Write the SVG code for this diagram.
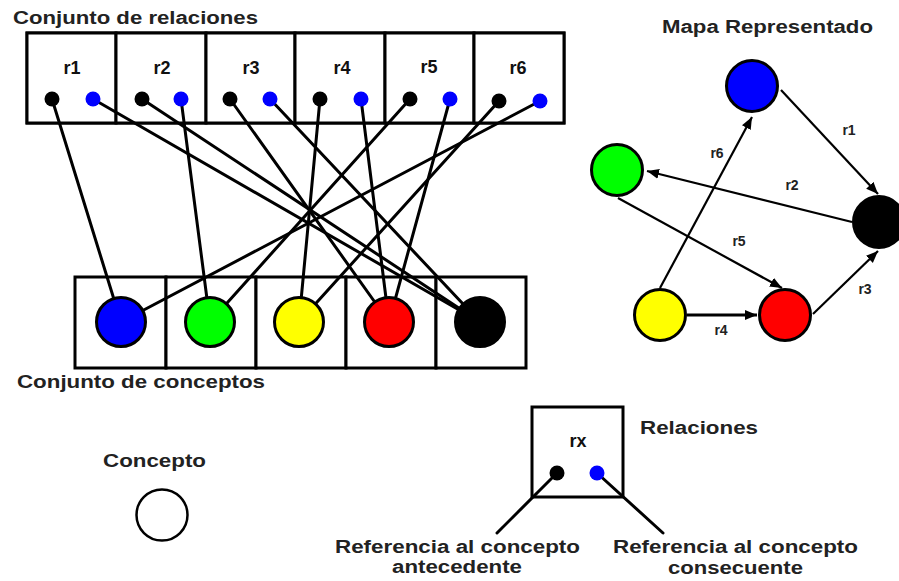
<svg xmlns="http://www.w3.org/2000/svg" width="899" height="581" viewBox="0 0 899 581">
  <style>
    .title { font-family: "Liberation Sans", Arial, sans-serif; font-weight: bold; font-size: 18px; fill: #222; }
    .rlab { font-family: "Liberation Sans", Arial, sans-serif; font-weight: bold; font-size: 18px; fill: #111; text-anchor: middle; }
    .mlab { font-family: "Liberation Sans", Arial, sans-serif; font-weight: bold; font-size: 14px; fill: #222; text-anchor: middle; }
    .box { fill: #fff; stroke: #000; stroke-width: 3; }
    .link { stroke: #000; stroke-width: 3; fill: none; stroke-linecap: round; }
    .arrow { stroke: #000; stroke-width: 2.2; fill: none; marker-end: url(#head); }
    .concept { stroke: #000; stroke-width: 3; }
    .ante { fill: #000; }
    .cons { fill: #0000ff; }
  </style>
  <defs>
    <marker id="head" markerUnits="userSpaceOnUse" markerWidth="13" markerHeight="11" refX="12" refY="5" orient="auto">
      <path d="M0,0 L12,5 L0,10 z" fill="#000"/>
    </marker>
  </defs>
  <rect width="899" height="581" fill="#fff"/>

  <!-- Titles -->
  <text class="title" x="13" y="24" textLength="245" lengthAdjust="spacingAndGlyphs">Conjunto de relaciones</text>
  <text class="title" x="17" y="388" textLength="248" lengthAdjust="spacingAndGlyphs">Conjunto de conceptos</text>
  <text class="title" x="662" y="33" textLength="211" lengthAdjust="spacingAndGlyphs">Mapa Representado</text>

  <!-- Relation set boxes -->
  <g id="relation-set">
    <rect class="box" x="27" y="33" width="537" height="90"/>
    <g id="r1"><rect class="box" x="27" y="33" width="89" height="90"/><text class="rlab" x="72" y="74">r1</text></g>
    <g id="r2"><rect class="box" x="116" y="33" width="90" height="90"/><text class="rlab" x="162" y="74">r2</text></g>
    <g id="r3"><rect class="box" x="206" y="33" width="89" height="90"/><text class="rlab" x="251" y="74">r3</text></g>
    <g id="r4"><rect class="box" x="295" y="33" width="90" height="90"/><text class="rlab" x="342" y="74">r4</text></g>
    <g id="r5"><rect class="box" x="385" y="33" width="89" height="90"/><text class="rlab" x="429" y="73">r5</text></g>
    <g id="r6"><rect class="box" x="474" y="33" width="90" height="90"/><text class="rlab" x="518" y="74">r6</text></g>
  </g>

  <!-- Concept set boxes -->
  <g id="concept-set">
    <rect class="box" x="75" y="277" width="91" height="91"/>
    <rect class="box" x="166" y="277" width="90" height="91"/>
    <rect class="box" x="256" y="277" width="90" height="91"/>
    <rect class="box" x="346" y="277" width="90" height="91"/>
    <rect class="box" x="436" y="277" width="90" height="91"/>
  </g>

  <!-- Links from relation references to concepts -->
  <g id="links">
    <line class="link" x1="52" y1="99" x2="121" y2="322"/>
    <line class="link" x1="93" y1="99" x2="480" y2="322"/>
    <line class="link" x1="142" y1="99" x2="480" y2="322"/>
    <line class="link" x1="181" y1="99" x2="210" y2="322"/>
    <line class="link" x1="230" y1="99" x2="389" y2="322"/>
    <line class="link" x1="270" y1="99" x2="480" y2="322"/>
    <line class="link" x1="320" y1="99" x2="299" y2="322"/>
    <line class="link" x1="361" y1="99" x2="389" y2="322"/>
    <line class="link" x1="410" y1="99" x2="210" y2="322"/>
    <line class="link" x1="450" y1="99" x2="389" y2="322"/>
    <line class="link" x1="499" y1="101" x2="299" y2="322"/>
    <line class="link" x1="540" y1="101" x2="121" y2="322"/>
  </g>

  <!-- Reference dots -->
  <g id="refs">
    <circle class="ante" cx="52" cy="99" r="7.5"/><circle class="cons" cx="93" cy="99" r="7.5"/>
    <circle class="ante" cx="142" cy="99" r="7.5"/><circle class="cons" cx="181" cy="99" r="7.5"/>
    <circle class="ante" cx="230" cy="99" r="7.5"/><circle class="cons" cx="270" cy="99" r="7.5"/>
    <circle class="ante" cx="320" cy="99" r="7.5"/><circle class="cons" cx="361" cy="99" r="7.5"/>
    <circle class="ante" cx="410" cy="99" r="7.5"/><circle class="cons" cx="450" cy="99" r="7.5"/>
    <circle class="ante" cx="499" cy="101" r="7.5"/><circle class="cons" cx="540" cy="101" r="7.5"/>
  </g>

  <!-- Concepts -->
  <g id="c-blue"><circle class="concept" cx="121" cy="322" r="24.5" fill="#0000ff"/></g>
  <g id="c-green"><circle class="concept" cx="210" cy="322" r="24.5" fill="#00ff00"/></g>
  <g id="c-yellow"><circle class="concept" cx="299" cy="322" r="24.5" fill="#ffff00"/></g>
  <g id="c-red"><circle class="concept" cx="389" cy="322" r="24.5" fill="#ff0000"/></g>
  <g id="c-black"><circle class="concept" cx="480" cy="322" r="24.5" fill="#000"/></g>

  <!-- Represented map: arrows -->
  <g id="map-arrows">
    <line class="arrow" x1="781" y1="90" x2="878" y2="194"/>
    <line class="arrow" x1="852" y1="222" x2="647" y2="171"/>
    <line class="arrow" x1="660" y1="288" x2="752" y2="117"/>
    <line class="arrow" x1="618" y1="198" x2="782" y2="288"/>
    <line class="arrow" x1="687" y1="315" x2="757" y2="315" style="stroke-width:3"/>
    <line class="arrow" x1="813" y1="314" x2="878" y2="251"/>
    <text class="mlab" x="849" y="135">r1</text>
    <text class="mlab" x="792" y="190">r2</text>
    <text class="mlab" x="865" y="294">r3</text>
    <text class="mlab" x="721" y="335">r4</text>
    <text class="mlab" x="739" y="246">r5</text>
    <text class="mlab" x="717" y="158">r6</text>
  </g>

  <!-- Represented map: nodes -->
  <g id="m-blue"><circle class="concept" cx="752" cy="86" r="25.5" fill="#0000ff"/></g>
  <g id="m-green"><circle class="concept" cx="617" cy="170" r="25.5" fill="#00ff00"/></g>
  <g id="m-black"><circle class="concept" cx="879" cy="222" r="25.5" fill="#000"/></g>
  <g id="m-yellow"><circle class="concept" cx="660" cy="315" r="25.5" fill="#ffff00"/></g>
  <g id="m-red"><circle class="concept" cx="785" cy="315" r="25.5" fill="#ff0000"/></g>

  <!-- Legend: concept -->
  <g id="legend-concept">
    <text class="title" x="103" y="467" textLength="103" lengthAdjust="spacingAndGlyphs">Concepto</text>
    <circle cx="162" cy="515" r="25.5" fill="#fff" stroke="#000" stroke-width="2.5"/>
  </g>

  <!-- Legend: relation -->
  <g id="legend-relation">
    <rect class="box" x="532" y="407" width="91" height="90"/>
    <text class="rlab" x="578" y="447">rx</text>
    <line class="link" x1="557" y1="473" x2="497" y2="533"/>
    <line class="link" x1="597" y1="473" x2="663" y2="533"/>
    <circle class="ante" cx="557" cy="473" r="7.5"/>
    <circle class="cons" cx="597" cy="473" r="7.5"/>
    <text class="title" x="640" y="434" textLength="118" lengthAdjust="spacingAndGlyphs">Relaciones</text>
    <text class="title" x="335" y="553" textLength="245" lengthAdjust="spacingAndGlyphs">Referencia al concepto</text>
    <text class="title" x="392" y="573" textLength="130" lengthAdjust="spacingAndGlyphs">antecedente</text>
    <text class="title" x="613" y="553" textLength="245" lengthAdjust="spacingAndGlyphs">Referencia al concepto</text>
    <text class="title" x="668" y="574" textLength="135" lengthAdjust="spacingAndGlyphs">consecuente</text>
  </g>
</svg>
